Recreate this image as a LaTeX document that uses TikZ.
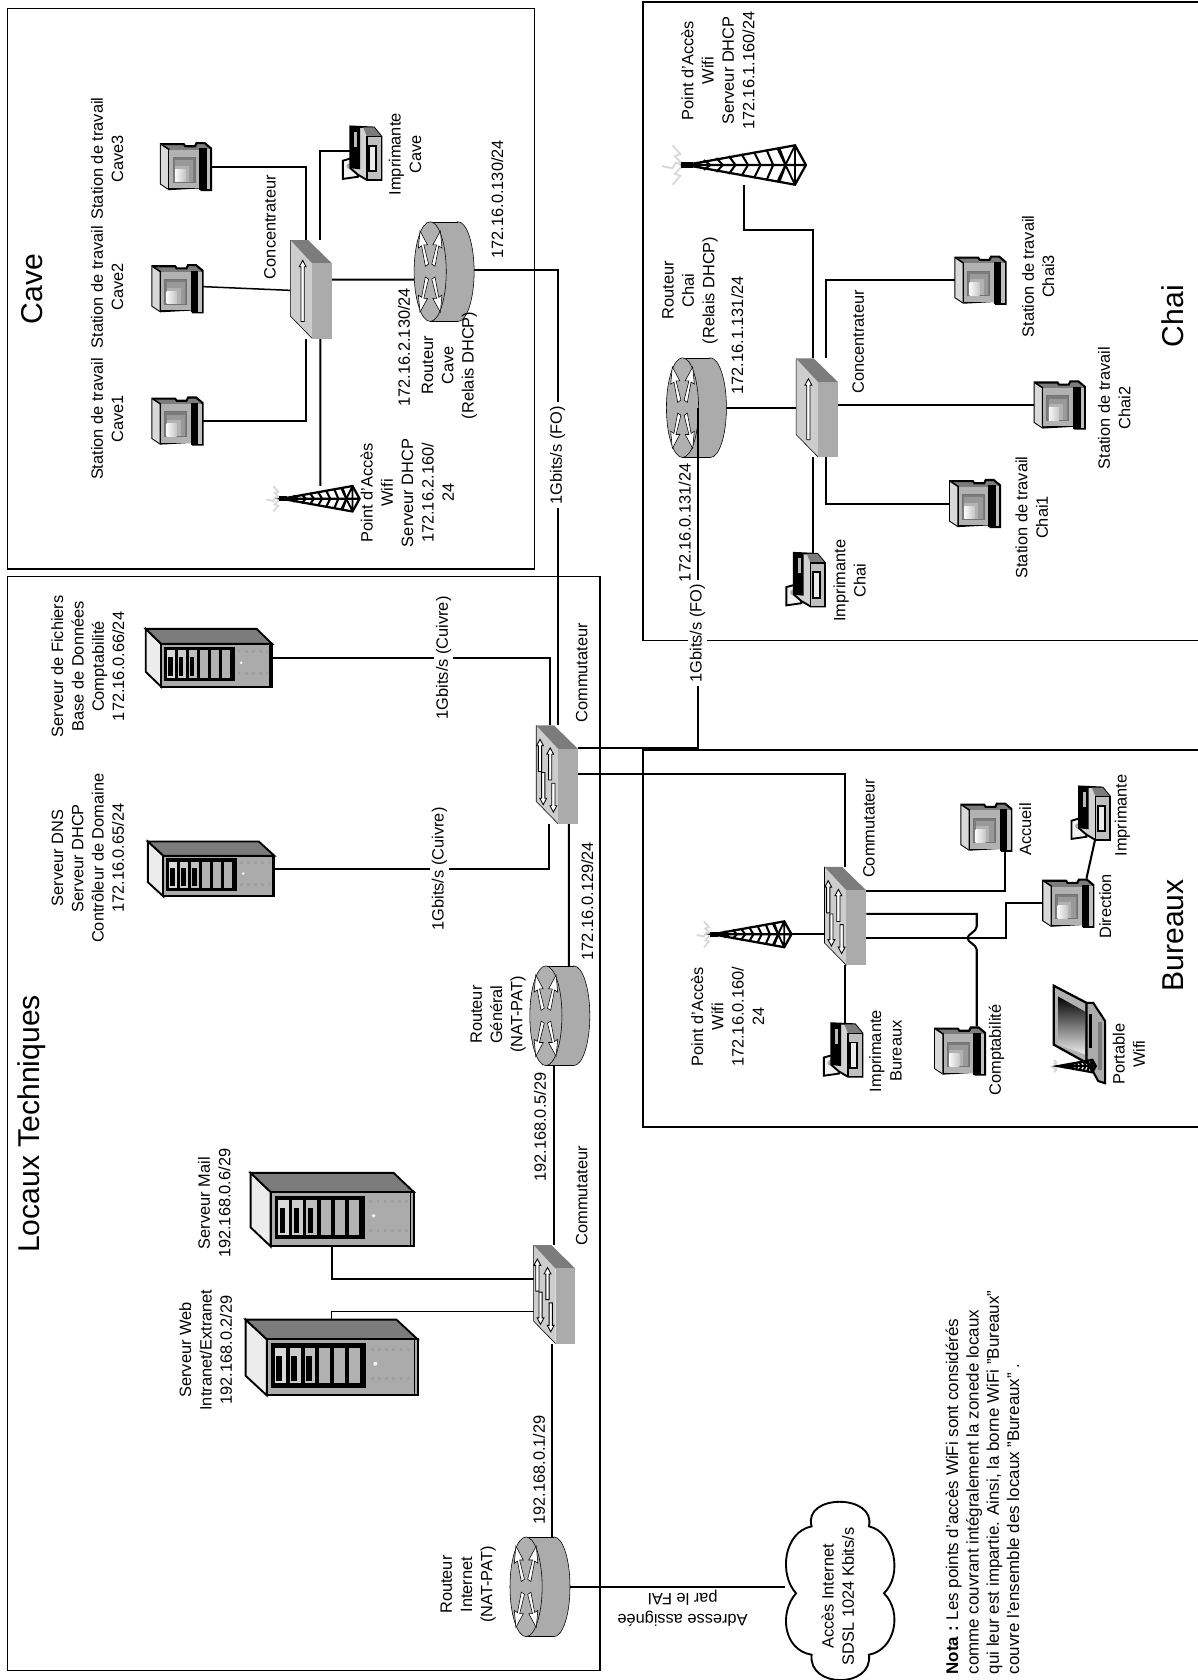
\documentclass[tikz,border=0pt]{standalone}
\usepackage{fontspec}
\setmainfont{Liberation Sans}
\usepackage{xcolor}
\usepackage{tikz}
\usetikzlibrary{calc,backgrounds}
\definecolor{facelight}{HTML}{CDCDCD}
\definecolor{facemid}{HTML}{ABABAB}
\definecolor{facedark}{HTML}{7C7C7C}
\newcommand{\vfleche}[4]{%
  \filldraw[fill=white,draw=black,line width=0.45pt]
    (#1,#2) -- ({#1+3.2},{#2+#4}) -- ({#1+1.5},{#2+#4}) -- ({#1+1.5},#3)
    -- ({#1-1.5},#3) -- ({#1-1.5},{#2+#4}) -- ({#1-3.2},{#2+#4}) -- cycle;}
\tikzset{
  % ---- device boxes -----------------------------------------------------
  devbox/.style 2 args={inner sep=0pt, outer sep=0pt,
    minimum width=#1*0.02cm, minimum height=#2*0.02cm},
  wsbox/.style={devbox={47}{46}},
  hubbox/.style={devbox={39}{92}},
  rtbox/.style={devbox={56}{93}},
  prbox/.style={devbox={36}{50}},
  % ---- texts ------------------------------------------------------------
  nlabel/.style={rotate=90, align=center, inner sep=0pt,
    font=\fontsize{8.7}{10.8}\selectfont},
  nmedia/.style={nlabel, fill=white, inner xsep=2pt, inner ysep=1pt},
  ntitle/.style={rotate=90, inner sep=0pt, font=\fontsize{16}{19}\selectfont},
  % ---- lines ------------------------------------------------------------
  nlink/.style={draw=black, line width=1.1pt},
  nzone/.style={draw=black, line width=0.8pt},
  % ---- device drawings --------------------------------------------------
  pics/wspic/.style={code={
    \filldraw[fill=facedark, line width=1.1pt]
      (-23.3,-21) -- (-2,-21) -- (-0.6,-19) -- (8.5,-19) -- (10,-22) -- (17.5,-22)
      -- (23.5,-17) -- (23.5,22) -- (14.5,22) -- (13.6,19.4) -- (-15.8,21)
      -- (-23.3,16) -- cycle;
    \fill[gray!30] (-23.3,-21) -- (-15.8,-16) -- (-15.8,21) -- (-23.3,16) -- cycle;
    \draw[line width=0.8pt] (-23.3,-21) -- (-15.8,-16) -- (-15.8,21);
    \fill[gray!60] (-15.4,-15.6) rectangle (12.5,20);
    \filldraw[fill=facedark, draw=gray!110, line width=0.5pt] (-12,-8.5) rectangle (8.5,14.5);
    \fill[gray!80] (-10,-6) rectangle (7,14);
    \fill[gray!60] (-10,-1) rectangle (3,14);
    \shade[left color=gray!5, right color=gray!45] (-10,2.5) rectangle (-0.6,14);
    \fill[black] (12.5,-17) rectangle (19.5,22);
    \fill[gray!50] (19.5,-16) rectangle (22.8,21.3);
  }},
  pics/hubpic/.style={code={
    \fill[facelight] (-19.5,-46) -- (1,-24) -- (1,46) -- (-19.5,25) -- cycle;
    \draw[line width=0.3pt] (-19.5,-46) -- (-19.5,25) -- (1,46);
    \fill[facedark] (-19.5,-46) -- (-3,-46) -- (19.5,-24) -- (1,-24) -- cycle;
    \fill[facemid] (1,-24) rectangle (19.5,46);
    \vfleche{-8}{-27}{30}{6}
  }},
  pics/swpic/.style={code={
    \fill[facelight] (-19.5,-46) -- (1,-24) -- (1,46) -- (-19.5,25) -- cycle;
    \draw[line width=0.3pt] (-19.5,-46) -- (-19.5,25) -- (1,46);
    \fill[facedark] (-19.5,-46) -- (-3,-46) -- (19.5,-24) -- (1,-24) -- cycle;
    \fill[facemid] (1,-24) rectangle (19.5,46);
    \vfleche{-16}{-33}{-3}{6}
    \vfleche{-6.5}{-25}{5}{6}
    \vfleche{-13}{28}{-2}{-6}
    \vfleche{-3.5}{35}{8}{-6}
  }},
  pics/rtpic/.style={code={
    \filldraw[fill=facemid, line width=0.3pt] (13,0) ellipse [x radius=15, y radius=46.5];
    \fill[facemid] (-13,-46.5) rectangle (13,46.5);
    \draw[line width=0.3pt] (-13,-46.5) -- (13,-46.5) (-13,46.5) -- (13,46.5);
    \filldraw[fill=gray!62, line width=0.3pt] (-13,0) ellipse [x radius=15, y radius=46.5];
    \foreach \sx/\sy in {1/1,1/-1,-1/1,-1/-1}{
      \filldraw[shift={(-13,0)}, fill=white, line width=0.3pt]
        ({\sx*1.5},{\sy*7}) -- ({\sx*6},{\sy*25}) -- ({\sx*2.5},{\sy*25})
        -- ({\sx*9.5},{\sy*38}) -- ({\sx*11},{\sy*22}) -- ({\sx*8},{\sy*24})
        -- ({\sx*4.5},{\sy*5}) -- cycle;
    }
  }},
  pics/prpic/.style={code={
    \filldraw[fill=gray!10, line width=1pt]
      (-18,7) -- (-6,3.5) -- (-4,22) -- (-18,24) -- cycle;
    \fill[gray!65] (-12,12) circle (2.6);
    \filldraw[fill=gray!35, line width=1pt]
      (-11,-25) -- (11,-24) -- (18,-15.5) -- (18,25) -- (4.5,25) -- (-4,20) -- (-11,14) -- cycle;
    \fill[black] (-11,-25) -- (-2,-24.5) -- (-2,15) -- (-11,14) -- cycle;
    \fill[gray!55] (-7.5,-20) rectangle (-4.5,-6);
    \fill[facedark] (1,-24) -- (11,-24) -- (18,-15.5) -- (4.5,-15.5) -- cycle;
    \filldraw[fill=gray!50, line width=0.6pt] (4.5,-15.5) rectangle (18,25);
    \filldraw[fill=gray!15, line width=1pt] (6.5,-7) rectangle (13,17);
  }},
  pics/srvpic/.style={code={
    \filldraw[fill=gray!15, line width=1pt] (-59,-27) -- (-44.5,-13) -- (-44.5,27) -- (-59,13) -- cycle;
    \filldraw[fill=facedark, line width=1pt] (-59,-27) -- (44.5,-27) -- (59,-13) -- (-44.5,-13) -- cycle;
    \filldraw[fill=facemid, line width=1pt] (-44.5,-13) rectangle (59,27);
    \draw[line width=0.6pt] (57,-13) -- (57,27);
    \filldraw[fill=black, line width=1pt] (-41,-9.5) rectangle (23,21);
    \foreach \k/\shade in {0/gray!30,1/gray!40,2/gray!50,3/gray!60,4/gray!60,5/gray!60}{
      \fill[\shade] ({-39+\k*10.2},-7) rectangle ({-31.5+\k*10.2},18.5);
    }
    \foreach \k in {0,1,2}{
      \fill[black] ({-38+\k*10.2},-1) rectangle ({-34+\k*10.2},17);
    }
    \draw[gray!75, line width=1.6pt, dash pattern=on 1.4pt off 2.4pt] (27,-6) -- (55,-6) (27,15) -- (55,15);
    \fill[gray!10] (30,4.5) circle (1.4);
  }},
  pics/towerpic/.style={code={
    \draw[gray!30, line width=1pt] (-50,0) -- (-59,-2) -- (-62,3) -- (-72,1)
      (-53,-1) -- (-60,-8) -- (-55,-10) -- (-62,-18)
      (-53,1) -- (-60,8) -- (-55,10) -- (-62,18);
    \fill[black] (-54,-3.2) rectangle (-43,3.2);
    \foreach \k in {1,...,7}{
      \draw[line width=1.1pt] ({-45+\k*11.5},{-2.5-\k*1.9}) -- ({-39+\k*11.5},0) -- ({-45+\k*11.5},{2.5+\k*1.9});
    }
    \draw[line width=1.2pt] (-50,0) -- (50,-18) -- (60,0) -- (50,18) -- cycle (-50,0) -- (60,0);
    \draw[line width=1pt] (50,-18) -- (50,18) (34,-15) -- (50,18) (34,15) -- (50,-18);
  }},
  pics/lappic/.style={code={
    \filldraw[fill=gray!60, line width=1.2pt]
      (-20,-46) -- (10.6,-30) -- (10.6,26) -- (-20,9) -- cycle;
    \shade[top color=black, bottom color=gray!15]
      (-16,-36) -- (9,-22) -- (9,18) -- (-16,9) -- cycle;
    \filldraw[fill=facemid, line width=1.1pt]
      (10.6,-30) -- (16.8,-30) -- (28,-13) -- (28,45) -- (21.5,43) -- (10.6,23) -- cycle;
    \fill[black] (13,-20) rectangle (16,12);
    \fill[facedark] (21,-12) rectangle (25,33);
  }},
  pics/nuagepic/.style={code={
    \draw[line width=1pt, fill=white]
      (-27.5,-61.4) .. controls (-36,-92) and (33,-92) .. (26,-61.4)
      .. controls (50,-56) and (58,-16) .. (40,1)
      .. controls (58,19) and (50,54) .. (26,58.4)
      .. controls (30,90) and (-31,90) .. (-27.5,58.4)
      .. controls (-54,54) and (-58,19) .. (-42,1)
      .. controls (-58,-16) and (-54,-56) .. (-27.5,-61.4) -- cycle;
  }},
}
\begin{document}
\begin{tikzpicture}[x=0.02cm,y=-0.02cm]
\useasboundingbox (0,0) rectangle (1118,1568);

% ---- zones ------------------------------------------------------------
\draw[nzone] (7,8) rectangle (499,531);
\draw[nzone] (7,538) rectangle (560,1559);
\draw[nzone] (1118,2) -- (600,2) -- (600,598) -- (1118,598);
\draw[nzone] (1118,700) -- (600,700) -- (600,1052) -- (1118,1052);

% ---- Cave -------------------------------------------------------------
\path (173.5,155.5) node[wsbox] (wscave3) {} pic {wspic};
\path (165.5,269.5) node[wsbox] (wscave2) {} pic {wspic};
\path (165.5,393) node[wsbox] (wscave1) {} pic {wspic};
\path (290.5,270) node[hubbox] (hubcave) {} pic {hubpic};
\path (338,143) node[prbox] (prcave) {} pic {prpic};
\path (414.5,253.5) node[rtbox] (rtcave) {} pic {rtpic};
\path (296,465.5) node[devbox={66}{24}] (towcave) {} pic[scale=0.66] {towerpic};

% ---- Chai -------------------------------------------------------------
\path (691,154) node[devbox={102}{37}] (towchai) {} pic[scale=1.02] {towerpic};
\path (650,380.5) node[rtbox] (rtchai) {} pic {rtpic};
\path (762.5,380.5) node[hubbox] (hubchai) {} pic {hubpic};
\path (915,261.5) node[wsbox] (wschai3) {} pic {wspic};
\path (989,378) node[wsbox] (wschai2) {} pic {wspic};
\path (910,470) node[wsbox] (wschai1) {} pic {wspic};
\path (752,541) node[prbox] (prchai) {} pic {prpic};

% ---- Locaux Techniques ------------------------------------------------
\path (195,614) node[devbox={118}{54}] (srvfic) {} pic {srvpic};
\path (197,811) node[devbox={118}{51}] (srvdns) {} pic[yscale=0.95] {srvpic};
\path (520,723) node[hubbox] (swmain) {} pic {swpic};
\path (522.5,948) node[rtbox] (rtgen) {} pic {rtpic};
\path (310,1129) node[devbox={152}{69}] (srvmail) {} pic[xscale=1.29,yscale=1.27] {srvpic};
\path (309.5,1267) node[devbox={160}{71}] (srvweb) {} pic[xscale=1.36,yscale=1.31] {srvpic};
\path (517.5,1208) node[hubbox] (swlow) {} pic {swpic};
\path (504,1481) node[rtbox] (rtint) {} pic {rtpic};

% ---- Bureaux ----------------------------------------------------------
\path (789,855) node[hubbox] (swbur) {} pic {swpic};
\path (698.5,872) node[devbox={67}{24}] (towbur) {} pic[scale=0.67] {towerpic};
\path (787,980) node[prbox] (prbur) {} pic {prpic};
\path (920.5,772) node[wsbox] (wsacc) {} pic {wspic};
\path (896,981) node[wsbox] (wscpt) {} pic {wspic};
\path (997,843) node[wsbox] (wsdir) {} pic {wspic};
\path (1018,759) node[prbox] (primp) {} pic {prpic};
\path (1003.5,966) node[devbox={57}{92}] (laptop) {} pic {lappic};
\path (1003.5,995) node[devbox={32}{10}] (towlap) {} pic[scale=0.32] {towerpic};

% ---- internet ---------------------------------------------------------
\path (785,1486) node[devbox={104}{164}] (nuage) {} pic {nuagepic};

% ---- edges ------------------------------------------------------------
\begin{scope}[on background layer]
\draw[nlink] (wscave3.east) -| ($(hubcave.north)+(-4.5,0)$);
\draw[nlink, line width=0.8pt] ($(wscave2.east)+(0,-2)$) -- ($(hubcave.west)+(0,1)$);
\draw[nlink] (wscave1.east) -| ($(hubcave.south)+(-4.5,0)$);
\draw[nlink] ($(prcave.west)+(10,-2)$) -| ($(hubcave.north)+(8.5,0)$);
\draw[nlink] ($(hubcave.east)+(0,-9)$) -- ($(rtcave.west)+(0,7.5)$);
\draw[nlink] ($(hubcave.south)+(8.5,0)$) -- ($(towcave.north)+(3,0)$);
\draw[nlink] ($(rtcave.east)+(0,-1.5)$) -| ($(swmain.north)+(0.5,0)$);

\draw[nlink] ($(towchai.south)+(3.5,0)$) -- ++(0,42) -| ($(hubchai.north)+(-3.5,0)$);
\draw[nlink] (rtchai.east) -- (hubchai.west);
\draw[nlink] (wschai3.west) -| ($(hubchai.north)+(8,0)$);
\draw[nlink] (hubchai.east |- wschai2.west) -- (wschai2.west);
\draw[nlink] (wschai1.west) -| ($(hubchai.south)+(8,0)$);
\draw[nlink] ($(hubchai.south)+(-3.5,0)$) -- ($(prchai.north)+(7,0)$);

\draw[nlink] (srvfic.east) -| ($(swmain.north)+(-7,0)$);
\draw[nlink] (srvdns.east) -| ($(swmain.south)+(-8,0)$);
\draw[nlink] ($(swmain.south)+(11,0)$) -- ($(rtgen.north)+(8.5,0)$);
\draw[nlink] ($(rtgen.south)+(-5.5,0)$) -- ($(swlow.north)+(-0.5,0)$);
\draw[nlink] ($(swlow.west)+(0,-14)$) -| (srvmail.south);
\draw[nlink, line width=0.8pt] ($(swlow.west)+(0,16)$) -| (srvweb.north);
\draw[nlink] ($(swlow.south)+(-2.5,0)$) -- ($(rtint.north)+(11,0)$);
\draw[nlink] (rtint.east) -- (rtint.east -| nuage.west);

\draw[nlink] ($(swmain.east)+(0,-1)$) -| (swbur.north);
\draw[nlink] (towbur.east) -- (swbur.west |- towbur.east);
\draw[nlink] (swbur.south) -- (prbur.north -| swbur.south);
\draw[nlink] ($(swbur.east)+(0,-23)$) -| ($(wsacc.south)+(17.5,0)$);
\draw[nlink] ($(swbur.east)+(0,-2)$) -| ($(wscpt.north)+(15.6,-93.3)$)
  .. controls +(0,5) and +(0,-4) .. ++(-8.6,10.9)
  .. controls +(0,4) and +(0,-5) .. ++(8.6,10.9)
  -- ($(wscpt.north)+(15.6,0)$);
\draw[nlink] ($(swbur.east)+(0,20.6)$) -- ++(130,0) |- (wsdir.west);
\draw[nlink] ($(wsdir.north)+(17,0)$) -- ($(primp.south)+(4,0)$);
\end{scope}
\draw[nlink] ($(swmain.east)+(0,-25)$) -| ($(rtchai.center)+(1.5,0)$);

% ---- labels: Cave -----------------------------------------------------
\node[ntitle] (ttcave) at (30,270) {Cave};
\node[nlabel] (lbws3) at (100,148) {Station de travail\\Cave3};
\node[nlabel] (lbws2) at (100,268) {Station de travail\\Cave2};
\node[nlabel] (lbws1) at (100,391) {Station de travail\\Cave1};
\node[nlabel] (lbhubc) at (252,212) {Concentrateur};
\node[nlabel] (lbprc) at (378,144) {Imprimante\\Cave};
\node[nlabel] (lbipc0) at (464,186) {172.16.0.130/24};
\node[nlabel] (lbipc2) at (377,324) {172.16.2.130/24};
\node[nlabel] (lbrtc) at (419.5,341) {Routeur\\Cave\\(Relais DHCP)};
\node[nlabel] (lbtowc) at (380,460) {Point d'Accès\\Wifi\\Serveur DHCP\\172.16.2.160/\\24};
\node[nmedia] (lbfoc) at (520.5,425) {1Gbits/s (FO)};

% ---- labels: Chai -----------------------------------------------------
\node[ntitle] (ttchai) at (1095,295) {Chai};
\node[nlabel] (lbtowh) at (670,66) {Point d'Accès\\Wifi\\Serveur DHCP\\172.16.1.160/24};
\node[nlabel] (lbrth) at (644,271) {Routeur\\Chai\\(Relais DHCP)};
\node[nlabel] (lbiph1) at (688,313) {172.16.1.131/24};
\node[nlabel] (lbhubh) at (801,319) {Concentrateur};
\node[nlabel] (lbiph0) at (639,488) {172.16.0.131/24};
\node[nlabel] (lbprh) at (793,542) {Imprimante\\Chai};
\node[nlabel] (lbwh3) at (969,258) {Station de travail\\Chai3};
\node[nlabel] (lbwh2) at (1040,381) {Station de travail\\Chai2};
\node[nlabel] (lbwh1) at (963,483) {Station de travail\\Chai1};
\node[nmedia] (lbfoh) at (651,591) {1Gbits/s (FO)};

% ---- labels: Locaux Techniques ----------------------------------------
\node[ntitle] (ttloc) at (30,1049) {Locaux Techniques};
\node[nlabel] (lbfic) at (82,622) {Serveur de Fichiers\\Base de Données\\Comptabilité\\172.16.0.66/24};
\node[nlabel] (lbdns) at (82,801) {Serveur DNS\\Serveur DHCP\\Contrôleur de Domaine\\172.16.0.65/24};
\node[nmedia] (lbcu1) at (414,614) {1Gbits/s (Cuivre)};
\node[nmedia] (lbcu2) at (410,811) {1Gbits/s (Cuivre)};
\node[nlabel] (lbswm) at (543,628) {Commutateur};
\node[nlabel] (lbipg0) at (548,841) {172.16.0.129/24};
\node[nlabel] (lbrtg) at (465,947) {Routeur\\Général\\(NAT-PAT)};
\node[nlabel] (lbipg1) at (504,1052) {192.168.0.5/29};
\node[nlabel] (lbswl) at (543,1116) {Commutateur};
\node[nlabel] (lbmail) at (200,1123) {Serveur Mail\\192.168.0.6/29};
\node[nlabel] (lbweb) at (192,1260) {Serveur Web\\Intranet/Extranet\\192.168.0.2/29};
\node[nlabel] (lbipi) at (503,1372) {192.168.0.1/29};
\node[nlabel] (lbrti) at (437,1479) {Routeur\\Internet\\(NAT-PAT)};

% ---- labels: Bureaux --------------------------------------------------
\node[ntitle] (ttbur) at (1095,873) {Bureaux};
\node[nlabel] (lbswb) at (811,773) {Commutateur};
\node[nlabel] (lbacc) at (957,774) {Accueil};
\node[nlabel] (lbimp) at (1047.5,761) {Imprimante};
\node[nlabel] (lbdir) at (1031.5,846) {Direction};
\node[nlabel] (lbcpt) at (930,980) {Comptabilité};
\node[nlabel] (lblap) at (1053.5,984) {Portable\\Wifi};
\node[nlabel] (lbprb) at (826.5,981) {Imprimante\\Bureaux};
\node[nlabel] (lbtowb) at (679,949) {Point d'Accès\\Wifi\\172.16.0.160/\\24};

% ---- labels: internet and note ----------------------------------------
\node[nlabel] (lbnuage) at (782,1490) {Accès Internet\\SDSL 1024 Kbits/s};
\node[nlabel, rotate=90] (lbfai) at (637,1501) {Adresse assignée\\par le FAI};
\node[nlabel, anchor=west, align=left, font=\fontsize{9}{10.8}\selectfont] (lbnota) at (917,1563)
  {\textbf{Nota :} Les points d'accès WiFi sont considérés\\
   comme couvrant intégralement la zonede locaux\\
   qui leur est impartie. Ainsi, la borne WiFi "Bureaux"\\
   couvre l'ensemble des locaux "Bureaux" .};

\end{tikzpicture}
\end{document}
